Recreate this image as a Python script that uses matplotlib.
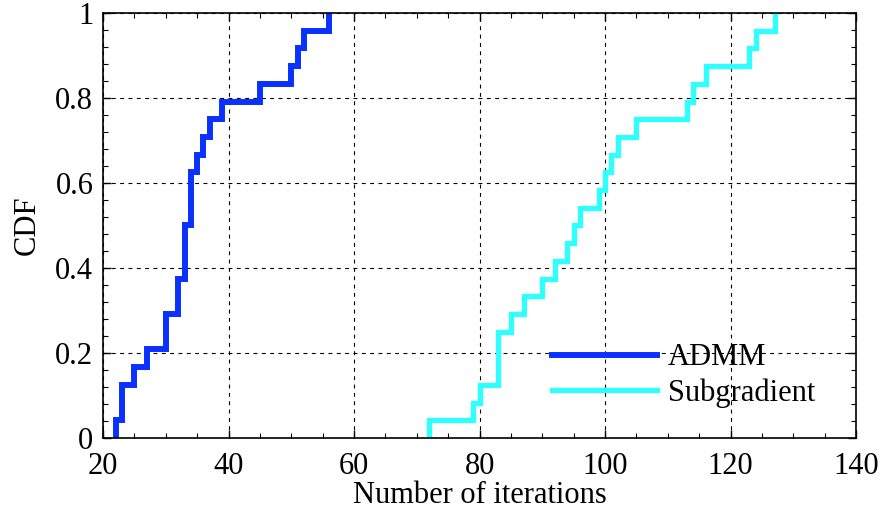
import numpy as np
import matplotlib
matplotlib.use("Agg")
import matplotlib.pyplot as plt
from matplotlib.ticker import MultipleLocator, FuncFormatter

admm_iters = [22, 23, 23, 25, 27, 30, 30, 32, 32, 33, 33, 33, 34, 34, 34,
              35, 36, 37, 39, 45, 50, 51, 52, 56]
subgrad_iters = [72, 79, 80, 83, 83, 83, 85, 87, 90, 92, 94, 95, 96, 99, 100,
                 101, 102, 105, 113, 114, 116, 123, 124, 127]
series_names = ["ADMM", "Subgradient"]
series_colors = ["#0a32ff", "#2effff"]

plt.rcParams['font.family'] = ['Liberation Serif', 'DejaVu Serif']

FS = 22

fig = plt.figure(figsize=(8.86, 5.2), dpi=100)
ax = fig.add_axes([0.1163, 0.1577, 0.85, 0.8173])


def ecdf_path(vals):
    v = np.sort(np.asarray(vals, dtype=float))
    u, counts = np.unique(v, return_counts=True)
    c = np.cumsum(counts) / len(v)
    x = np.r_[u[0], u]
    y = np.r_[0.0, c]
    return x, y


for data, name, col, lw in [(admm_iters, series_names[0], series_colors[0], 4.3),
                            (subgrad_iters, series_names[1], series_colors[1], 3.8)]:
    x, y = ecdf_path(data)
    ax.step(x, y, where='post', color=col, lw=lw, label=name, solid_joinstyle='miter')

ax.set_xlim(20, 140)
ax.set_ylim(0, 1)
ax.xaxis.set_major_locator(MultipleLocator(20))
ax.xaxis.set_minor_locator(MultipleLocator(5))
ax.yaxis.set_major_locator(MultipleLocator(0.2))
ax.yaxis.set_minor_locator(MultipleLocator(0.04))
ax.yaxis.set_major_formatter(FuncFormatter(lambda v, p: f"{v:g}"))
ax.tick_params(which='both', direction='in', top=True, right=True, labelsize=FS)
ax.tick_params(which='major', length=6, width=1)
ax.tick_params(which='minor', length=3.5, width=0.8)
ax.tick_params(axis='x', pad=10)
ax.tick_params(axis='y', pad=7)
for s in ax.spines.values():
    s.set_linewidth(1.2)
ax.grid(True, which='major', color='black', linestyle=(0, (3.5, 4)), linewidth=0.8)
ax.set_axisbelow(True)

ax.set_xlabel("Number of iterations", fontsize=FS, labelpad=0)
ax.set_ylabel("CDF", fontsize=FS, labelpad=10)

leg = ax.legend(loc='lower right', bbox_to_anchor=(0.974, 0.02), frameon=False,
                fontsize=FS, handlelength=3.45, handletextpad=0.36, labelspacing=0.2,
                borderpad=0.2)

fig.savefig("out.png", dpi=100)
